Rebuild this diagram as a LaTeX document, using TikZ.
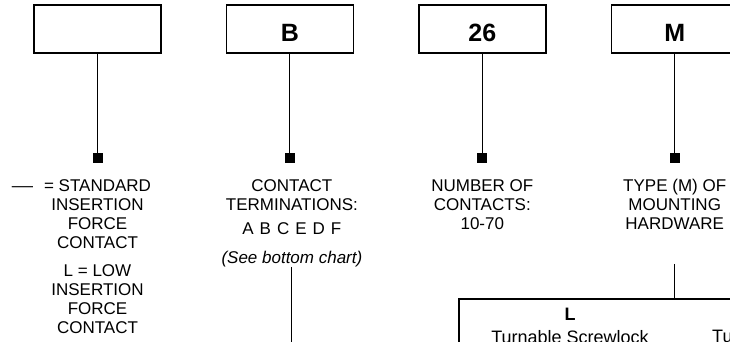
\documentclass[tikz,border=0pt]{standalone}
\usepackage{fontspec}
\setmainfont{Liberation Sans}
\usetikzlibrary{positioning}

\begin{document}
\begin{tikzpicture}[
  box/.style={draw, line width=1.4pt, minimum width=127pt, minimum height=48pt, inner sep=0pt, text height=26pt, text depth=0pt, font=\fontsize{25}{25}\selectfont\bfseries},
  tap/.style={fill, minimum size=10pt, inner sep=0pt},
  lbl/.style={align=center, inner sep=0pt, font=\fontsize{17}{19}\selectfont},
  chartbox/.style={draw, line width=2pt, anchor=north west, minimum width=330pt, minimum height=90pt},
  chartlbl/.style={inner sep=0pt, font=\fontsize{18}{23}\selectfont},
  wire/.style={line width=1.1pt},
  node distance=64pt
]
\useasboundingbox (0,0) rectangle (730pt,-342pt);
\node[box] (code1) at (97.5pt,-29pt) {};
\node[box, right=of code1] (code2) {B};
\node[box, right=of code2] (code3) {26};
\node[box, right=of code3] (code4) {M};
\node[tap, below=99pt of code1] (sq1) {};
\node[tap, below=99pt of code2] (sq2) {};
\node[tap, below=99pt of code3] (sq3) {};
\node[tap, below=99pt of code4] (sq4) {};
\node[lbl, below=16pt of sq1] (lab1) {\llap{\scalebox{1.25}[1]{—}\hspace{11pt}}= STANDARD\\INSERTION\\FORCE\\CONTACT\\[9pt]L = LOW\\INSERTION\\FORCE\\CONTACT};
\node[lbl, below=16pt of sq2, xshift=2pt] (lab2) {CONTACT\\TERMINATIONS:\\[5pt]A\hspace{6pt}B\hspace{6pt}C\hspace{6pt}E\hspace{6pt}D\hspace{6pt}F\\[10pt]\textit{(See bottom chart)}};
\node[lbl, below=16pt of sq3] (lab3) {NUMBER OF\\CONTACTS:\\10-70};
\node[lbl, below=16pt of sq4] (lab4) {TYPE (M) OF\\MOUNTING\\HARDWARE};
\node[chartbox] (chart) at (458pt,-298pt) {};
\node[chartlbl, anchor=north, align=center] (opt1) at (570pt,-308pt) {\textbf{L}\\Turnable Screwlock};
\node[chartlbl, anchor=north west] (opt2) at (712pt,-330pt) {Tu};
\coordinate (bottom) at (0,-350pt);
\draw[wire] (code1) -- (sq1);
\draw[wire] (code2) -- (sq2);
\draw[wire] (code3) -- (sq3);
\draw[wire] (code4) -- (sq4);
\draw[wire] (lab2.south) -- (lab2.south |- bottom);
\draw[wire] ([yshift=-34pt]lab4.south) -- (lab4.south |- chart.north);
\end{tikzpicture}
\end{document}
